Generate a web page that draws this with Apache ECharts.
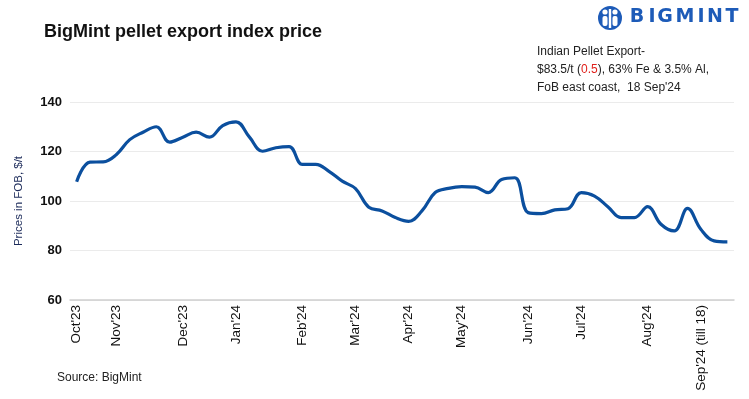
<!DOCTYPE html>
<html>
<head>
<meta charset="utf-8">
<script src="https://cdn.jsdelivr.net/npm/echarts@6/dist/echarts.min.js"></script>
<style>
  html, body { margin: 0; padding: 0; background: #fff; }
  #chart { width: 749px; height: 399px; }
</style>
</head>
<body>
<div id="chart"></div>
<script>
// months shown on the x axis and how many weekly points fall in each
const monthTicks = ["Oct'23", "Nov'23", "Dec'23", "Jan'24", "Feb'24", "Mar'24", "Apr'24", "May'24", "Jun'24", "Jul'24", "Aug'24", "Sep'24 (till 18)"];
const weeksPerMonth = [3, 5, 4, 5, 4, 4, 4, 5, 4, 5, 4, 3];

// weekly index price, $/t FOB
const prices = [
  107.8, 115.7, 115.8, 118.8, 124.8, 127.8, 130.0, 123.8, 125.8, 127.8,
  125.8, 130.5, 132.0, 125.9, 120.1, 121.5, 122.0, 114.8, 114.8, 112.0,
  108.0, 105.0, 97.5, 96.0, 93.3, 91.8, 96.0, 103.4, 105.1, 105.8,
  105.6, 103.4, 108.7, 109.4, 95.3, 94.9, 96.4, 96.9, 103.4, 102.0,
  97.7, 93.3, 93.3, 97.7, 90.6, 87.9, 97.0, 88.6, 83.9, 83.5
];

const yTicks = [60, 80, 100, 120, 140];

// week categories, e.g. "Oct'23|1"
const categories = [];
monthTicks.forEach(function (m, i) {
  for (let k = 1; k <= weeksPerMonth[i]; k++) {
    categories.push(m + '|' + k);
  }
});

const chart = echarts.init(document.getElementById('chart'));
const blue = '#0b4f9e';
const logoBlue = '#1d5bb8';

// logo letters, centred one by one
const letterX = [637, 652, 665, 685, 701, 715, 732];
const logoLetters = 'BIGMINT'.split('').map(function (ch, i) {
  return {
    type: 'text', x: letterX[i], y: 8,
    style: { text: ch, fill: logoBlue, font: 'bold 19px "DejaVu Sans"', align: 'center' }
  };
});

chart.setOption({
  animation: false,
  grid: { left: 70, right: 15, top: 102, bottom: 99 },
  title: {
    text: 'BigMint pellet export index price',
    left: 39,
    top: 18,
    textStyle: { fontFamily: 'Liberation Sans', fontSize: 18, fontWeight: 'bold', color: '#111' }
  },
  graphic: [
    // logo
    { type: 'circle', shape: { cx: 610, cy: 18, r: 12 }, style: { fill: logoBlue } },
    { type: 'circle', shape: { cx: 605, cy: 12, r: 2.6 }, style: { fill: '#fff' } },
    { type: 'circle', shape: { cx: 615, cy: 12, r: 2.6 }, style: { fill: '#fff' } },
    { type: 'rect', shape: { x: 602.5, y: 16, width: 5, height: 10, r: 2 }, style: { fill: '#fff' } },
    { type: 'rect', shape: { x: 612.5, y: 16, width: 5, height: 10, r: 2 }, style: { fill: '#fff' } },
    { type: 'rect', shape: { x: 608.8, y: 9, width: 2.4, height: 19 }, style: { fill: '#fff' } }
  ].concat(logoLetters).concat([
    // annotation
    {
      type: 'text', left: 537, top: 43,
      style: {
        text: 'Indian Pellet Export-\n$83.5/t ({r|0.5}), 63% Fe & 3.5% Al,\nFoB east coast,  18 Sep\'24',
        fill: '#222',
        font: '12px "Liberation Sans"',
        lineHeight: 18,
        rich: { r: { fill: '#e0201b', font: '12px "Liberation Sans"' } }
      }
    },
    {
      type: 'text', left: 57, top: 372,
      style: { text: 'Source: BigMint', fill: '#222', font: '12px "Liberation Sans"' }
    }
  ]),
  xAxis: {
    type: 'category',
    data: categories,
    boundaryGap: true,
    axisLine: { show: true, lineStyle: { color: '#cfcfcf', width: 1.5 } },
    axisTick: { show: false },
    axisLabel: {
      rotate: 90,
      margin: 5,
      color: '#111',
      fontFamily: 'Liberation Sans',
      fontSize: 13.5,
      interval: function (idx, val) { return val.split('|')[1] === '1'; },
      formatter: function (val) { return val.split('|')[0]; }
    }
  },
  yAxis: {
    type: 'value',
    min: 60,
    max: 140,
    interval: 20,
    name: 'Prices in FOB, $/t',
    nameLocation: 'middle',
    nameGap: 45,
    nameTextStyle: { color: '#1c2b5a', fontFamily: 'Liberation Sans', fontSize: 11.5 },
    axisLine: { show: false },
    axisTick: { show: false },
    axisLabel: {
      color: '#111',
      fontFamily: 'Liberation Sans',
      fontWeight: 'bold',
      fontSize: 13,
      margin: 8,
      formatter: function (v) { return yTicks.indexOf(v) >= 0 ? String(v) : ''; }
    },
    splitLine: { lineStyle: { color: '#ebebeb', width: 1 } }
  },
  series: [
    {
      type: 'line',
      data: prices,
      smooth: 0.4,
      showSymbol: false,
      lineStyle: { color: blue, width: 3.2 },
      itemStyle: { color: blue }
    }
  ]
});
</script>
</body>
</html>
